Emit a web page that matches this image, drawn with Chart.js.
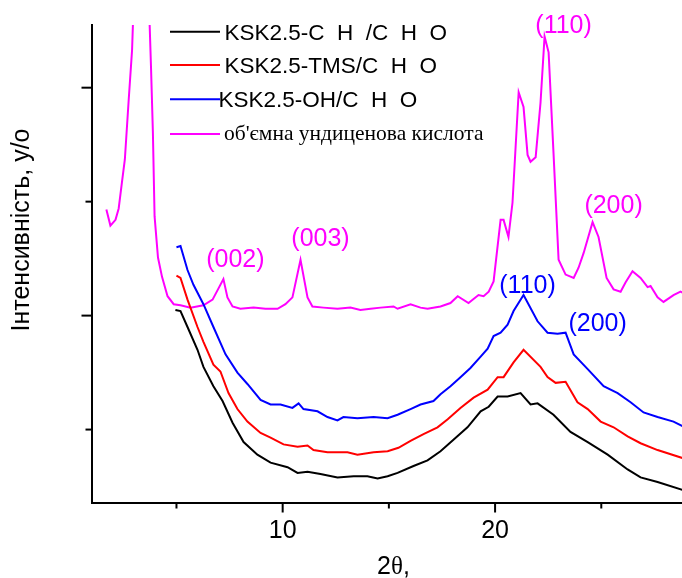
<!DOCTYPE html>
<html>
<head>
<meta charset="utf-8">
<script src="https://cdn.jsdelivr.net/npm/chart.js@4.4.0/dist/chart.umd.min.js"></script>
<style>
  html, body { margin: 0; padding: 0; background: #fff; }
</style>
</head>
<body>
<canvas id="canvas" width="682" height="578"></canvas>
<script>
// XRD patterns, 2theta in degrees, intensity in arbitrary units
var seriesNames = [
  'KSK2.5-C  H  /C  H  O',
  'KSK2.5-TMS/C  H  O',
  'KSK2.5-OH/C  H  O',
  'об\'ємна ундиценова кислота'
];
var seriesColors = ['#000000', '#ff0000', '#0000ff', '#ff00ff'];

var blackX = [4.95, 5.19, 5.52, 5.99, 6.27, 6.74, 7.17, 7.64, 8.16, 8.81, 9.43, 10.23, 10.70, 11.17, 11.78, 12.58, 13.34, 13.99, 14.47, 14.94,
  15.41, 16.16, 16.82, 17.43, 18.04, 18.70, 19.32, 19.70, 20.12, 20.59, 21.20, 21.67, 22.00, 22.75, 23.55, 24.36, 25.30, 26.24, 26.85, 27.65, 28.83];
var blackY = [2.05, 2.04, 1.90, 1.70, 1.55, 1.38, 1.25, 1.06, 0.89, 0.78, 0.71, 0.67, 0.62, 0.63, 0.61, 0.58, 0.59, 0.59, 0.57, 0.59,
  0.62, 0.68, 0.73, 0.81, 0.91, 1.02, 1.16, 1.20, 1.29, 1.29, 1.32, 1.22, 1.23, 1.13, 0.98, 0.89, 0.78, 0.65, 0.58, 0.54, 0.47];

var redX = [5.00, 5.19, 5.52, 5.99, 6.27, 6.74, 7.07, 7.45, 7.87, 8.34, 8.96, 9.43, 10.04, 10.70, 11.17, 11.45, 12.11, 13.05, 13.52, 14.28,
  14.94, 15.45, 16.02, 16.63, 17.29, 17.77, 18.37, 18.99, 19.65, 20.12, 20.40, 20.87, 21.34, 22.14, 22.47, 22.85, 23.32, 23.88, 24.36, 24.97,
  25.58, 26.24, 26.85, 27.65, 28.83];
var redY = [2.35, 2.33, 2.14, 1.90, 1.77, 1.57, 1.51, 1.32, 1.18, 1.07, 0.97, 0.93, 0.87, 0.85, 0.86, 0.82, 0.80, 0.80, 0.78, 0.80,
  0.81, 0.84, 0.90, 0.96, 1.02, 1.09, 1.19, 1.28, 1.35, 1.46, 1.46, 1.59, 1.70, 1.55, 1.46, 1.41, 1.42, 1.24, 1.18, 1.07,
  1.02, 0.94, 0.88, 0.82, 0.75];

var blueX = [5.00, 5.19, 5.52, 5.80, 6.27, 6.74, 7.31, 7.87, 8.34, 8.96, 9.43, 9.90, 10.46, 10.75, 10.98, 11.64, 12.11, 12.58, 12.86, 13.52,
  14.28, 14.94, 15.41, 16.02, 16.49, 17.10, 17.43, 17.90, 18.37, 18.84, 19.32, 19.65, 19.93, 20.26, 20.59, 20.87, 21.34, 22.00, 22.47, 22.94,
  23.32, 23.70, 24.36, 25.11, 25.77, 26.38, 26.99, 27.65, 28.40, 28.83];
var blueY = [2.60, 2.61, 2.40, 2.27, 2.10, 1.90, 1.66, 1.50, 1.40, 1.26, 1.22, 1.22, 1.19, 1.23, 1.18, 1.16, 1.11, 1.08, 1.11, 1.10,
  1.11, 1.10, 1.13, 1.18, 1.22, 1.25, 1.31, 1.38, 1.46, 1.54, 1.64, 1.71, 1.82, 1.85, 1.92, 2.04, 2.18, 1.95, 1.85, 1.84,
  1.85, 1.66, 1.53, 1.38, 1.32, 1.24, 1.15, 1.11, 1.07, 1.03];

var acidX = [1.70, 1.89, 2.13, 2.28, 2.44, 2.57, 2.75, 2.91, 3.35, 3.80, 3.89, 3.97, 4.13, 4.32, 4.58, 4.87, 5.19, 5.66, 6.27, 6.70,
  7.21, 7.40, 7.64, 8.01, 8.63, 9.19, 9.76, 10.13, 10.46, 10.84, 11.17, 11.40, 11.92, 12.58, 13.19, 13.66, 14.14, 14.61, 15.22, 15.41,
  16.02, 16.49, 16.82, 17.43, 17.90, 18.24, 18.75, 19.22, 19.46, 19.70, 19.93, 20.26, 20.40, 20.63, 20.82, 21.11, 21.34, 21.53, 21.67, 21.91,
  22.14, 22.33, 22.52, 22.75, 22.99, 23.32, 23.70, 23.93, 24.17, 24.59, 24.87, 25.25, 25.58, 25.91, 26.14, 26.47, 26.85, 27.18, 27.32, 27.65,
  27.93, 28.40, 28.73, 28.83];
var acidY = [2.93, 2.79, 2.84, 2.94, 3.18, 3.37, 3.89, 4.33, 6.80, 4.19, 3.61, 2.87, 2.51, 2.34, 2.17, 2.10, 2.09, 2.07, 2.09, 2.14,
  2.32, 2.16, 2.08, 2.06, 2.07, 2.06, 2.06, 2.10, 2.16, 2.49, 2.16, 2.08, 2.07, 2.06, 2.07, 2.05, 2.06, 2.07, 2.08, 2.06,
  2.10, 2.07, 2.06, 2.08, 2.11, 2.17, 2.11, 2.18, 2.17, 2.21, 2.30, 2.84, 2.84, 2.69, 2.99, 3.96, 3.83, 3.41, 3.35, 3.39,
  3.87, 4.45, 4.31, 3.43, 2.49, 2.36, 2.33, 2.42, 2.55, 2.82, 2.69, 2.33, 2.23, 2.21, 2.29, 2.39, 2.33, 2.25, 2.26, 2.16,
  2.12, 2.18, 2.21, 2.20];

var xTicks = [5, 10, 15, 20, 25];
var yTicks = [1, 2, 3, 4];

// reflection indices: label, series, peak position
var peakText = ['(002)', '(003)', '(110)', '(200)', '(110)', '(200)'];
var peakSeries = [3, 3, 3, 3, 2, 2];
var peakAt = [7.21, 10.84, 22.33, 24.59, 21.34, 23.32];

var allX = [blackX, redX, blueX, acidX];
var allY = [blackY, redY, blueY, acidY];

var SANS = "'Liberation Sans', Arial, sans-serif";
var SERIF = "'Liberation Serif', 'Times New Roman', serif";

function toPoints(xs, ys) {
  return xs.map(function(x, i) { return { x: x, y: ys[i] }; });
}

var datasets = allX.map(function(xs, i) {
  return {
    label: seriesNames[i],
    data: toPoints(xs, allY[i]),
    borderColor: seriesColors[i],
    backgroundColor: seriesColors[i],
    borderWidth: 2,
    pointRadius: 0,
    tension: 0,
    fill: false
  };
});

// tick marks, axis titles, legend and peak labels
var decorations = {
  id: 'decorations',
  afterDraw: function(chart) {
    var ctx = chart.ctx;
    var xs = chart.scales.x, ys = chart.scales.y;
    ctx.save();
    ctx.strokeStyle = '#000';
    ctx.lineWidth = 2;

    xTicks.forEach(function(v) {
      var px = xs.getPixelForValue(v);
      var len = v % 10 === 0 ? 10 : 6;
      ctx.beginPath();
      ctx.moveTo(px, xs.top);
      ctx.lineTo(px, xs.top + len);
      ctx.stroke();
    });
    yTicks.forEach(function(v) {
      var py = ys.getPixelForValue(v);
      var len = v % 2 === 0 ? 10 : 6;
      ctx.beginPath();
      ctx.moveTo(ys.right, py);
      ctx.lineTo(ys.right - len, py);
      ctx.stroke();
    });

    ctx.fillStyle = '#000';

    // y title
    ctx.save();
    ctx.translate(22, 230);
    ctx.rotate(-Math.PI / 2);
    ctx.font = '25px ' + SANS;
    ctx.textAlign = 'center';
    ctx.textBaseline = 'middle';
    ctx.fillText('Інтенсивність, у/о', 0, 0);
    ctx.restore();

    // x title, theta in serif
    ctx.textAlign = 'left';
    ctx.textBaseline = 'alphabetic';
    var tx = 377, ty = 574;
    ctx.font = '25px ' + SANS;
    ctx.fillText('2', tx, ty);
    tx += ctx.measureText('2').width;
    ctx.font = '25px ' + SERIF;
    ctx.fillText('θ', tx, ty);
    tx += ctx.measureText('θ').width;
    ctx.font = '25px ' + SANS;
    ctx.fillText(',', tx, ty);

    // legend
    var legY = [31.7, 65, 99.3, 134];
    var legTextX = [224.5, 224.5, 218.5, 224];
    seriesNames.forEach(function(name, i) {
      ctx.strokeStyle = seriesColors[i];
      ctx.beginPath();
      ctx.moveTo(170, legY[i]);
      ctx.lineTo(220, legY[i]);
      ctx.stroke();
      ctx.fillStyle = '#000';
      if (i === 3) {
        ctx.font = '21.5px ' + SERIF;
        ctx.fillText(name, legTextX[i], legY[i] + 6);
      } else {
        ctx.font = '22.5px ' + SANS;
        ctx.fillText(name, legTextX[i], legY[i] + 8);
      }
    });

    // peak labels placed off their peak points
    var offs = [[12, -20], [20, -21], [19, -10.5], [21, -17], [4, -10], [32, -9]];
    ctx.font = '25px ' + SANS;
    ctx.textAlign = 'center';
    peakText.forEach(function(t, i) {
      var s = peakSeries[i];
      var k = allX[s].indexOf(peakAt[i]);
      var px = xs.getPixelForValue(peakAt[i]);
      var py = ys.getPixelForValue(allY[s][k]);
      ctx.fillStyle = seriesColors[s];
      ctx.fillText(t, px + offs[i][0], py + offs[i][1] + 7.5);
    });
    ctx.restore();
  }
};

var chartInstance = new Chart(document.getElementById('canvas'), {
  type: 'line',
  data: { datasets: datasets },
  plugins: [decorations],
  options: {
    responsive: false,
    animation: false,
    layout: { padding: { top: 25, right: 0, bottom: 0, left: 0 } },
    plugins: {
      legend: { display: false },
      tooltip: { enabled: false }
    },
    scales: {
      x: {
        type: 'linear',
        min: 1,
        max: 28.8,
        afterFit: function(scale) { scale.height = 75.5; },
        afterBuildTicks: function(scale) {
          scale.ticks = xTicks.map(function(v) { return { value: v }; });
        },
        grid: { display: false, drawTicks: false, tickLength: 0 },
        border: { display: true, color: '#000', width: 2 },
        ticks: {
          color: '#000',
          font: { family: SANS, size: 25 },
          padding: 14,
          maxRotation: 0,
          autoSkip: false,
          callback: function(v) { return v % 10 === 0 ? String(v) : ''; }
        }
      },
      y: {
        type: 'linear',
        min: 0.36,
        max: 4.55,
        afterFit: function(scale) { scale.width = 91.5; },
        afterBuildTicks: function(scale) {
          scale.ticks = yTicks.map(function(v) { return { value: v }; });
        },
        grid: { display: false, drawTicks: false, tickLength: 0 },
        border: { display: true, color: '#000', width: 2 },
        ticks: { display: false }
      }
    }
  }
});
</script>
</body>
</html>
